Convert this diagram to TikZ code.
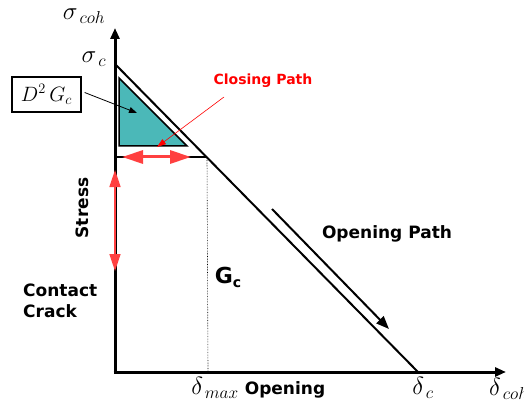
\documentclass[tikz,border=0pt]{standalone}
\usepackage{fontspec}
\setsansfont{DejaVu Sans}
\usetikzlibrary{arrows.meta}
\definecolor{arrred}{HTML}{FF4040}
\definecolor{tealfill}{HTML}{4BB8B8}
\begin{document}
\begin{tikzpicture}[x=1pt,y=-1pt,
  axis/.style={line width=3pt,-{Triangle[length=11pt,width=9pt]}},
  curve/.style={line width=2pt},
  lbl/.style={font=\sffamily\bfseries\fontsize{17}{21}\selectfont,inner sep=0pt},
  mathlbl/.style={font=\fontsize{23}{25}\selectfont,inner sep=0pt},
  redarrow/.style={draw=arrred,line width=3pt,{Triangle[length=21pt,width=13pt]}-{Triangle[length=21pt,width=13pt]}},
  redvarrow/.style={draw=arrred,line width=1.6pt,{Triangle[length=17pt,width=11pt]}-{Triangle[length=17pt,width=11pt]}},
  pointer/.style={line width=0.8pt,-{Triangle[length=8pt,width=6pt]}}]
\useasboundingbox (0,0) rectangle (524,406);
% axes
\coordinate (O) at (115,372);
\coordinate (Ytip) at (115,28);
\coordinate (Xtip) at (506,372);
\draw[axis] (O) -- (Ytip);
\draw[axis] ([xshift=-1.5pt]O) -- (Xtip);
% softening line
\coordinate (Sc) at (115,64);
\coordinate (Dc) at (418,372);
\coordinate (Hm) at (207,157);
\coordinate (Hl) at (115,157);
\coordinate (Dm) at (208,372);
\draw[curve] (Sc) -- (Dc);
\draw[curve] (Hl) -- (Hm);
\draw[densely dotted,line width=0.6pt] (Hm) -- (Dm);
% teal triangle
\coordinate (T1) at (119,78);
\coordinate (T2) at (119,146);
\coordinate (T3) at (187,146);
\draw[fill=tealfill,line width=1.5pt] (T1) -- (T2) -- (T3) -- cycle;
% red arrows
\coordinate (Ra) at (122,157);
\coordinate (Rb) at (191,157);
\draw[redarrow] (Ra) -- (Rb);
\coordinate (Va) at (115,170);
\coordinate (Vb) at (115,271);
\draw[redvarrow] (Va) -- (Vb);
% opening path arrow
\coordinate (Oa) at (272,209);
\coordinate (Ob) at (389,329);
\draw[line width=2pt,-{Triangle[length=13pt,width=10pt]}] (Oa) -- (Ob);
% labels
\node[mathlbl] (sigcoh) at (84,16) {$\sigma_{\,coh}$};
\node[mathlbl] (sigc) at (94,59) {$\sigma_{\,c}$};
\node[draw,line width=1.3pt,minimum width=69pt,minimum height=35pt,inner sep=0pt,font=\fontsize{22}{24}\selectfont] (box) at (46.5,94.5) {$D^2\,G_c$};
\coordinate (Pt) at (137,113);
\draw[pointer] (box.east) ++(3pt,2pt) coordinate (Ps) -- (Pt);
\node[font=\sffamily\bfseries\fontsize{14}{16}\selectfont,text=red,inner sep=0pt] (closing) at (263,81) {Closing Path};
\coordinate (Cs) at (224,97);
\coordinate (Ct) at (157,147);
\draw[red,line width=0.6pt,-{Triangle[length=9pt,width=6pt]}] (Cs) -- (Ct);
\node[lbl,rotate=90] (stress) at (82,208) {Stress};
\node[lbl,align=left,anchor=north west] (contact) at (23,284) {Contact\\Crack};
\node[font=\sffamily\bfseries\fontsize{22}{24}\selectfont,inner sep=0pt] (gc) at (228,277) {G\raisebox{-4pt}{\fontsize{14}{16}\selectfont c}};
\node[lbl] (openp) at (387,234) {Opening Path};
\node[mathlbl] (dmax) at (215,388) {$\delta_{\,max}$};
\node[lbl] (opening) at (285,390) {Opening};
\node[mathlbl] (dc) at (423,388) {$\delta_{\,c}$};
\node[mathlbl,anchor=west] (dcoh) at (489,389) {$\delta_{\,coh}$};
\end{tikzpicture}
\end{document}
